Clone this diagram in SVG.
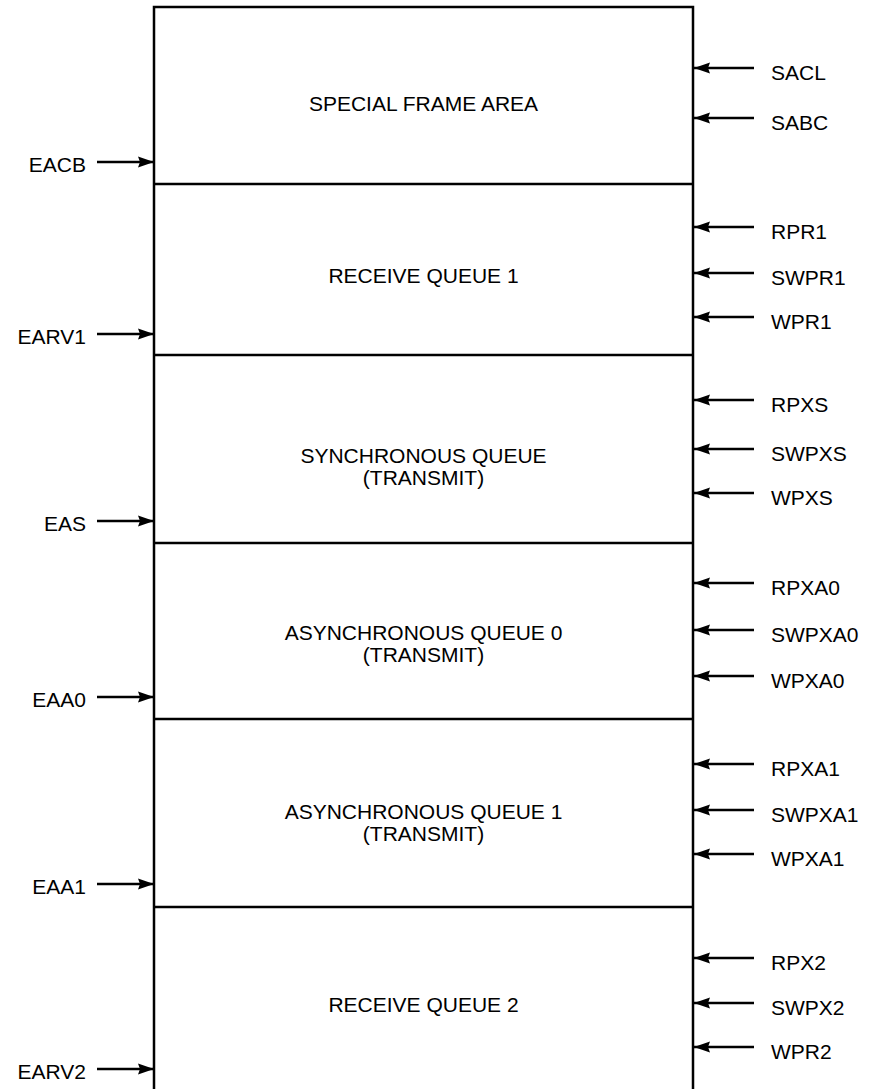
<svg xmlns="http://www.w3.org/2000/svg" width="872" height="1089" viewBox="0 0 872 1089">
<style>
text{font-family:"Liberation Sans",Arial,sans-serif;font-size:21px;fill:#000}
.c{text-anchor:middle}
.l{text-anchor:end}
.box{fill:none;stroke:#000;stroke-width:2.5}
.div{stroke:#000;stroke-width:2.5}
.ar{stroke:#000;stroke-width:2.5;fill:none;marker-end:url(#ah)}
</style>
<defs>
<marker id="ah" markerUnits="userSpaceOnUse" markerWidth="17" markerHeight="12" refX="16" refY="6" orient="auto">
<path d="M0,0.5 L16,6 L0,11.5 L2,6 z" fill="#000"/>
</marker>
</defs>
<g id="memory">
<path class="box" d="M154,1089 V7 H693 V1089"/>
</g>
<g id="special-frame-area">
<line class="div" x1="154" y1="184" x2="693" y2="184"/>
<text class="c" x="423.5" y="111">SPECIAL FRAME AREA</text>
</g>
<g id="receive-queue-1">
<line class="div" x1="154" y1="355" x2="693" y2="355"/>
<text class="c" x="423.5" y="283">RECEIVE QUEUE 1</text>
</g>
<g id="synchronous-queue">
<line class="div" x1="154" y1="543" x2="693" y2="543"/>
<text class="c" x="423.5" y="463">SYNCHRONOUS QUEUE</text>
<text class="c" x="423.5" y="485">(TRANSMIT)</text>
</g>
<g id="async-queue-0">
<line class="div" x1="154" y1="719" x2="693" y2="719"/>
<text class="c" x="423.5" y="640">ASYNCHRONOUS QUEUE 0</text>
<text class="c" x="423.5" y="662">(TRANSMIT)</text>
</g>
<g id="async-queue-1">
<line class="div" x1="154" y1="907" x2="693" y2="907"/>
<text class="c" x="423.5" y="819">ASYNCHRONOUS QUEUE 1</text>
<text class="c" x="423.5" y="841">(TRANSMIT)</text>
</g>
<g id="receive-queue-2">
<text class="c" x="423.5" y="1012">RECEIVE QUEUE 2</text>
</g>
<g id="left-labels">
<text class="l" x="86" y="172">EACB</text>
<text class="l" x="86" y="344">EARV1</text>
<text class="l" x="86" y="531">EAS</text>
<text class="l" x="86" y="707">EAA0</text>
<text class="l" x="86" y="894">EAA1</text>
<text class="l" x="86" y="1079">EARV2</text>
</g>
<g id="right-labels">
<text x="771" y="80">SACL</text>
<text x="771" y="130">SABC</text>
<text x="771" y="239">RPR1</text>
<text x="771" y="285">SWPR1</text>
<text x="771" y="329">WPR1</text>
<text x="771" y="412">RPXS</text>
<text x="771" y="461">SWPXS</text>
<text x="771" y="505">WPXS</text>
<text x="771" y="595">RPXA0</text>
<text x="771" y="642">SWPXA0</text>
<text x="771" y="688">WPXA0</text>
<text x="771" y="776">RPXA1</text>
<text x="771" y="822">SWPXA1</text>
<text x="771" y="866">WPXA1</text>
<text x="771" y="970">RPX2</text>
<text x="771" y="1015">SWPX2</text>
<text x="771" y="1059">WPR2</text>
</g>
<g id="connectors">
<line class="ar" x1="97" y1="162" x2="154" y2="162"/>
<line class="ar" x1="97" y1="334" x2="154" y2="334"/>
<line class="ar" x1="97" y1="521" x2="154" y2="521"/>
<line class="ar" x1="97" y1="697" x2="154" y2="697"/>
<line class="ar" x1="97" y1="884" x2="154" y2="884"/>
<line class="ar" x1="97" y1="1069" x2="154" y2="1069"/>
<line class="ar" x1="754" y1="68" x2="694" y2="68"/>
<line class="ar" x1="754" y1="118" x2="694" y2="118"/>
<line class="ar" x1="754" y1="227" x2="694" y2="227"/>
<line class="ar" x1="754" y1="273" x2="694" y2="273"/>
<line class="ar" x1="754" y1="317" x2="694" y2="317"/>
<line class="ar" x1="754" y1="400" x2="694" y2="400"/>
<line class="ar" x1="754" y1="449" x2="694" y2="449"/>
<line class="ar" x1="754" y1="493" x2="694" y2="493"/>
<line class="ar" x1="754" y1="583" x2="694" y2="583"/>
<line class="ar" x1="754" y1="630" x2="694" y2="630"/>
<line class="ar" x1="754" y1="676" x2="694" y2="676"/>
<line class="ar" x1="754" y1="764" x2="694" y2="764"/>
<line class="ar" x1="754" y1="810" x2="694" y2="810"/>
<line class="ar" x1="754" y1="854" x2="694" y2="854"/>
<line class="ar" x1="754" y1="958" x2="694" y2="958"/>
<line class="ar" x1="754" y1="1003" x2="694" y2="1003"/>
<line class="ar" x1="754" y1="1047" x2="694" y2="1047"/>
</g>
</svg>
